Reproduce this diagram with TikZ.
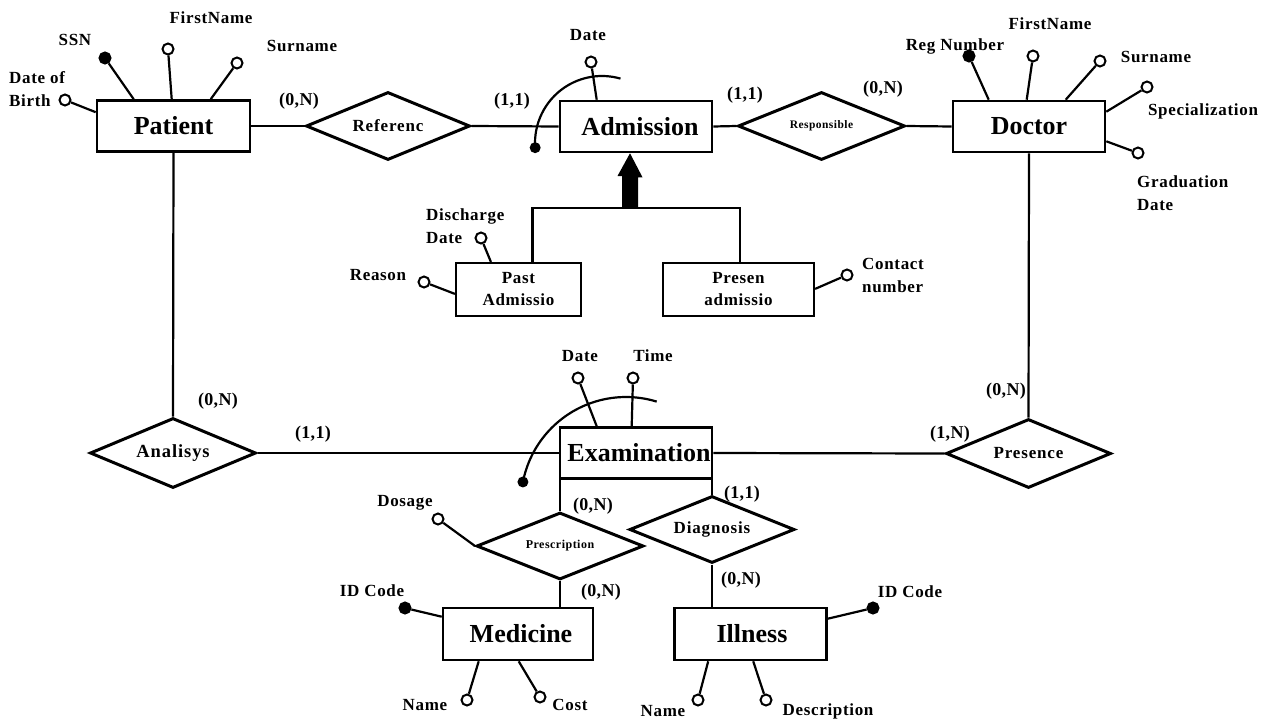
\documentclass[tikz,border=0pt]{standalone}
\usepackage{fontspec}
\setmainfont{Liberation Serif}
\usetikzlibrary{shapes.geometric}
\newcommand{\erfont}[3]{\bfseries\fontsize{#1}{#2}\selectfont\addfontfeature{LetterSpace=#3}}
\begin{document}
\begin{tikzpicture}[x=1pt,y=1pt,
  ent/.style={draw, line width=2.6pt, inner sep=0pt, minimum height=51pt,
    font=\bfseries\fontsize{26}{28}\selectfont},
  subent/.style={ent, line width=2.2pt, minimum height=53pt, align=center,
    font=\erfont{17}{22}{4}},
  rel/.style={draw, diamond, aspect=2.4, line width=3pt, inner sep=0pt},
  att/.style={circle, draw, line width=2pt, fill=white, inner sep=0pt, minimum size=11pt},
  key/.style={att, fill=black},
  lbl/.style={inner sep=0pt, font=\erfont{17}{23}{4}},
  card/.style={inner sep=0pt, font=\erfont{18}{20}{2}},
  link/.style={line width=2.2pt},
]
\useasboundingbox (0,0) rectangle (1268,-720);

% ---------- entities ----------
\node[ent, minimum width=153pt] (pat) at (173.5,-126) {Patient};
\node[ent, minimum width=152pt] (adm) at (636,-126.5) {\hspace*{8pt}Admission};
\node[ent, minimum width=152pt] (doc) at (1029,-126.5) {Doctor};
\node[ent, minimum width=152pt] (exa) at (636,-453) {\hspace*{6pt}Examination};
\node[ent, minimum width=150pt, minimum height=52pt] (med) at (518,-634) {\hspace*{6pt}Medicine};
\node[ent, minimum width=152pt, minimum height=52pt] (ill) at (750.5,-634) {\hspace*{3pt}Illness};
\node[subent, minimum width=125pt] (past) at (518.5,-289.5) {Past\\Admissio};
\node[subent, minimum width=151pt] (presen) at (738.5,-289.5) {Presen\\admissio};

% ---------- relationships ----------
\node[rel, minimum width=164pt, minimum height=68pt, font=\erfont{17}{19}{5}] (ref) at (388,-126) {Referenc};
\node[rel, minimum width=167pt, minimum height=68pt, font=\erfont{11.5}{13}{4}] (resp) at (821.5,-126) {Responsible};
\node[rel, minimum width=166pt, minimum height=70pt, font=\erfont{18.5}{20}{5}] (ana) at (173,-453) {Analisys};
\node[rel, minimum width=165pt, minimum height=69pt, font=\erfont{17}{19}{5}] (pres) at (1028.5,-453.5) {Presence};
\node[rel, minimum width=167pt, minimum height=67pt, font=\erfont{12}{14}{4}] (presc) at (560,-546) {Prescription};
\node[rel, minimum width=165pt, minimum height=67pt, font=\erfont{17}{19}{5}] (diag) at (712,-529.5) {Diagnosis};

% ---------- relationship links ----------
\draw[link] (pat.east) -- (ref.west);
\draw[link] (ref.east) -- (adm.west);
\draw[link] (adm.east) -- (resp.west);
\draw[link] (resp.east) -- (doc.west);
\draw[link] (pat.south) -- (ana.north);
\draw[link] (ana.east) -- (exa.west);
\draw[link] (doc.south) -- (pres.north);
\draw[link] (exa.east) -- (pres.west);
\draw[link] (presc.north) -- (presc.north |- exa.south);
\draw[link] (diag.north) -- (diag.north |- exa.south);
\draw[link] (presc.south) -- (presc.south |- med.north);
\draw[link] (diag.south) -- (diag.south |- ill.north);

% ---------- cardinalities ----------
\node[card] (c1) at (299,-101) {(0,N)};
\node[card] (c2) at (512,-101) {(1,1)};
\node[card] (c3) at (745,-95) {(1,1)};
\node[card] (c4) at (883,-89) {(0,N)};
\node[card] (c5) at (218,-401) {(0,N)};
\node[card] (c6) at (313,-434) {(1,1)};
\node[card] (c7) at (1006,-391) {(0,N)};
\node[card] (c8) at (950,-434) {(1,N)};
\node[card] (c9) at (593,-506) {(0,N)};
\node[card] (c10) at (742,-494) {(1,1)};
\node[card] (c11) at (601,-592) {(0,N)};
\node[card] (c12) at (741,-580) {(0,N)};

% ---------- generalization of Admission ----------
\coordinate (isa) at (630,-208);
\draw[link] ([xshift=14pt]past.north) |- (isa) -| ([xshift=1.5pt]presen.north);
\fill (adm.south -| isa) -- ++(12.5,-24) -- ++(-4.5,0) -- (638,-208) -- (622,-208)
  -- (622,-176) -- ++(-4.5,0) -- cycle;

% ---------- composite identifiers ----------
\draw[link] (602,-143) ++(184:67) coordinate (admk) arc[start angle=184, end angle=74, radius=67];
\fill (admk) circle (5.5);
\draw[link] (626,-502) ++(169:105) coordinate (exak) arc[start angle=169, end angle=73, radius=105];
\fill (exak) circle (5.5);

% ---------- attributes ----------
% Patient
\node[key] (pssn) at (105,-58) {};
\node[att] (pfn) at (168,-49) {};
\node[att] (psn) at (237,-63) {};
\node[att] (pdob) at (65,-100) {};
\draw[link] (pssn) -- ([xshift=38pt]pat.north west);
\draw[link] (pfn) -- ([xshift=76pt]pat.north west);
\draw[link] (psn) -- ([xshift=115pt]pat.north west);
\draw[link] (pdob) -- ([yshift=-13pt]pat.north west);
\node[lbl] (lssn) at (75,-40) {SSN};
\node[lbl] (lpfn) at (211,-18) {FirstName};
\node[lbl] (lpsn) at (302,-46) {Surname};
\node[lbl, anchor=west, align=left] (lpdob) at (9,-89.5) {Date of\\Birth};

% Admission
\node[att] (adate) at (591,-62) {};
\draw[link] (adate) -- ([xshift=38pt]adm.north west);
\node[lbl] (ladate) at (588,-35) {Date};

% Doctor
\node[key] (dreg) at (969,-56) {};
\node[att] (dfn) at (1033,-56) {};
\node[att] (dsn) at (1100,-61) {};
\node[att] (dspec) at (1147,-87) {};
\node[att] (dgrad) at (1138,-153) {};
\draw[link] (dreg) -- ([xshift=37pt]doc.north west);
\draw[link] (dfn) -- ([xshift=75pt]doc.north west);
\draw[link] (dsn) -- ([xshift=114pt]doc.north west);
\draw[link] (dspec) -- ([yshift=-12pt]doc.north east);
\draw[link] (dgrad) -- ([yshift=12pt]doc.south east);
\node[lbl] (ldreg) at (955,-46) {Reg Number};
\node[lbl] (ldfn) at (1050,-24) {FirstName};
\node[lbl] (ldsn) at (1156,-57) {Surname};
\node[lbl] (ldspec) at (1203,-111) {Specialization};
\node[lbl, anchor=west, align=left] (ldgrad) at (1137,-193.5) {Graduation\\Date};

% Past / present admission
\node[att] (pdis) at (481,-238) {};
\node[att] (preas) at (424,-282) {};
\node[att] (pcont) at (847,-275) {};
\draw[link] (pdis) -- ([xshift=36pt]past.north west);
\draw[link] (preas) -- ([yshift=-32pt]past.north west);
\draw[link] (pcont) -- ([yshift=-27pt]presen.north east);
\node[lbl, anchor=west, align=left] (lpdis) at (426,-226.5) {Discharge\\Date};
\node[lbl] (lpreas) at (378,-275) {Reason};
\node[lbl, anchor=west, align=left] (lpcont) at (862,-275) {Contact\\number};

% Examination
\node[att] (edate) at (578,-378) {};
\node[att] (etime) at (633,-378) {};
\draw[link] (edate) -- ([xshift=38pt]exa.north west);
\draw[link] (etime) -- ([xshift=73pt]exa.north west);
\node[lbl] (ledate) at (580,-356) {Date};
\node[lbl] (letime) at (653,-356) {Time};

% Prescription
\node[att] (rdos) at (438,-519) {};
\draw[link] (rdos) -- (presc.west);
\node[lbl] (lrdos) at (405,-503) {Dosage};

% Medicine
\node[key] (mid) at (405,-608) {};
\node[att] (mname) at (467,-700) {};
\node[att] (mcost) at (540,-697) {};
\draw[link] (mid) -- ([yshift=-10pt]med.north west);
\draw[link] (mname) -- ([xshift=37pt]med.south west);
\draw[link] (mcost) -- ([xshift=77pt]med.south west);
\node[lbl] (lmid) at (372,-591) {ID Code};
\node[lbl] (lmname) at (425,-705) {Name};
\node[lbl] (lmcost) at (570,-705) {Cost};

% Illness
\node[key] (iid) at (873,-608) {};
\node[att] (iname) at (698,-700) {};
\node[att] (idesc) at (766,-700) {};
\draw[link] (iid) -- ([yshift=-12pt]ill.north east);
\draw[link] (iname) -- ([xshift=35pt]ill.south west);
\draw[link] (idesc) -- ([xshift=80pt]ill.south west);
\node[lbl] (liid) at (910,-592) {ID Code};
\node[lbl] (liname) at (663,-711) {Name};
\node[lbl] (lidesc) at (828,-711) {Description};
\end{tikzpicture}
\end{document}
